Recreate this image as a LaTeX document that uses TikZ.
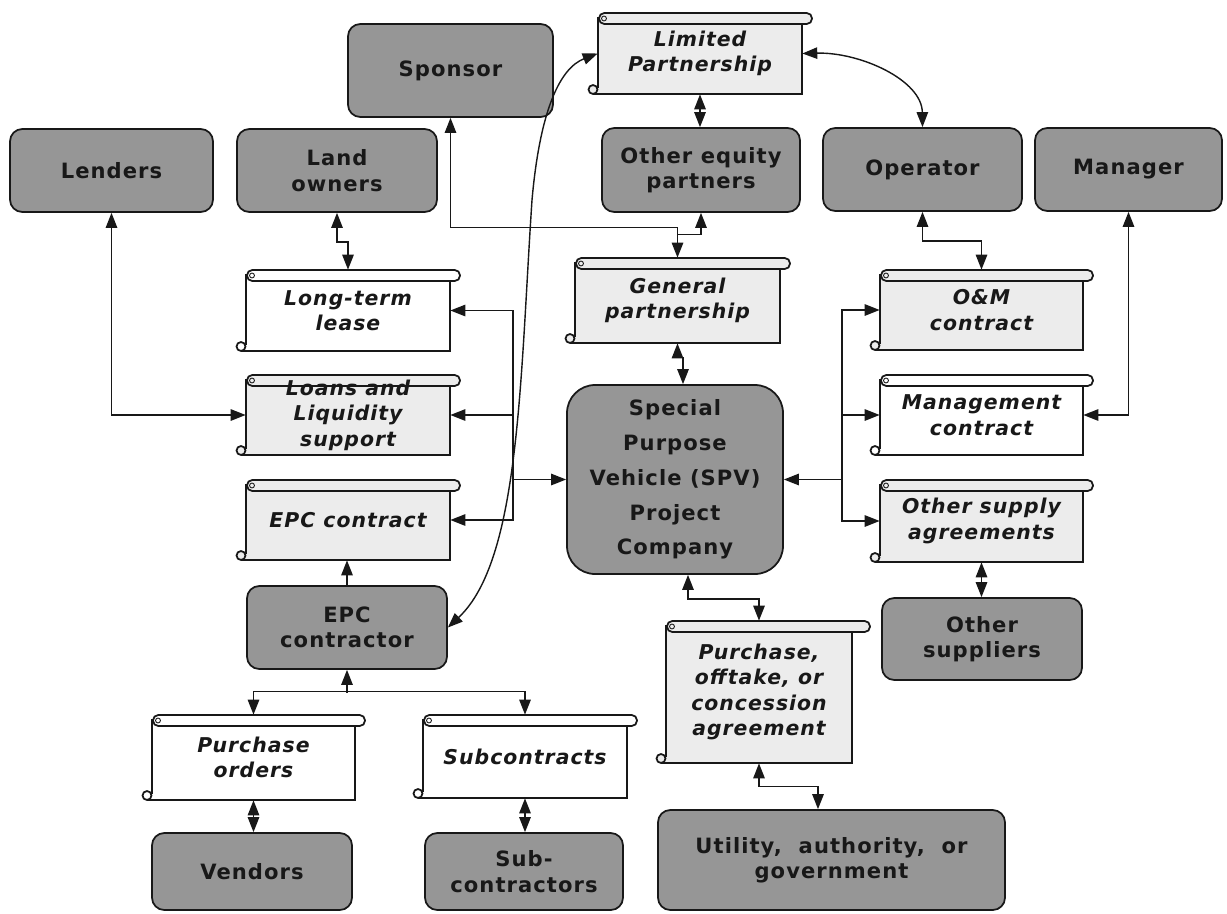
\documentclass[tikz,border=0pt]{standalone}
\usepackage{fontspec}
\setmainfont{DejaVu Sans}[LetterSpace=5,
  BoldFont={DejaVu Sans Bold},
  ItalicFont={DejaVu Sans Oblique},
  BoldItalicFont={DejaVu Sans Bold Oblique}]
\usetikzlibrary{arrows.meta,calc}

\definecolor{boxgray}{RGB}{150,150,150}
\definecolor{scrollfill}{RGB}{236,236,236}
\definecolor{ink}{RGB}{24,24,24}

\newcommand{\boxfont}{\fontsize{12pt}{14.5pt}\selectfont\bfseries}
\newcommand{\spvfont}{\fontsize{12pt}{19.8pt}\selectfont\bfseries}
\newcommand{\scrollfont}{\fontsize{11.6pt}{14.5pt}\selectfont\bfseries\itshape}

\tikzset{
  conn/.style={line width=0.8pt, draw=ink},
  graybox/.style={draw=ink, line width=1pt, fill=boxgray, rounded corners=7pt,
    inner sep=0pt, align=center, text=ink, font=\boxfont},
  scrollline/.style={draw=ink, line width=1pt},
  scrolltext/.style={inner sep=0pt, align=center, text=ink, font=\scrollfont},
}

% gray rounded box: name, left, top, right, bottom, text
\newcommand{\graybox}[7][]{%
  \node[graybox, #1, minimum width={(#5-#3)*0.02cm}, minimum height={(#6-#4)*0.02cm}]
    (#2) at ({(#3+#5)/2},{(#4+#6)/2}) {#7};}

% scroll: name, left, top, right, bottom, fill, roller overhang, text
\newcommand{\scrollbox}[8]{%
  \fill[#6] (#2,#3+5) rectangle (#4,#5);
  \draw[scrollline] (#2,#3+4) -- (#2,#5-6);
  \draw[scrollline] (#4,#3+11) -- (#4,#5) -- (#2-5,#5);
  \draw[scrollline, fill=#6] (#2-5,#5-4.5) circle (2.55pt);
  \draw[scrollline, fill=#6, rounded corners=3pt] (#2+1,#3) rectangle (#4+#7,#3+11);
  \draw[draw=ink, line width=0.5pt] (#2+6,#3+5.5) circle (1.4pt);
  \node[scrolltext, minimum width={(#4-#2)*0.02cm}, minimum height={(#5-#3)*0.02cm}]
    (#1) at ({(#2+#4)/2},{(#3+#5)/2}) {#8};}

\begin{document}
\begin{tikzpicture}[x=0.02cm, y=-0.02cm, >={Triangle[length=8.5pt,width=6.5pt]}]
\fill[white] (0,0) rectangle (1227,913);
\useasboundingbox (0,0) rectangle (1227,913);

% parties
\graybox{Sponsor}{348}{24}{553}{117}{Sponsor}
\graybox{Lenders}{10}{129}{213}{212}{Lenders}
\graybox{Landowners}{237}{129}{437}{212}{Land\\owners}
\graybox{OtherEq}{602}{128}{800}{212}{Other equity\\partners}
\graybox{Operator}{823}{128}{1022}{211}{Operator}
\graybox{Manager}{1035}{128}{1222}{211}{Manager}
\graybox[rounded corners=16pt, font=\spvfont]{SPV}{567}{385}{783}{574}{Special\\Purpose\\Vehicle (SPV)\\Project\\Company}
\graybox{EPCc}{247}{586}{447}{669}{EPC\\contractor}
\graybox{OtherSup}{882}{598}{1082}{680}{Other\\suppliers}
\graybox{Vendors}{152}{833}{352}{910}{Vendors}
\graybox{SubC}{425}{833}{623}{910}{Sub-\\contractors}
\graybox{Utility}{658}{810}{1005}{910}{Utility, \ authority, \ or\\government}

% agreements
\scrollbox{LP}{598}{13}{802}{94}{scrollfill}{10}{Limited\\Partnership}
\scrollbox{GP}{575}{258}{780}{343}{scrollfill}{10}{General\\partnership}
\scrollbox{LTL}{246}{270}{450}{351}{white}{10}{Long-term\\lease}
\scrollbox{Loans}{246}{375}{450}{455}{scrollfill}{10}{Loans and\\Liquidity\\support}
\scrollbox{EPCk}{246}{480}{450}{560}{scrollfill}{10}{EPC contract}
\scrollbox{OM}{880}{270}{1083}{350}{scrollfill}{10}{O\&M\\contract}
\scrollbox{Mgmt}{880}{375}{1083}{455}{white}{10}{Management\\contract}
\scrollbox{OSA}{880}{480}{1083}{562}{scrollfill}{10}{Other supply\\agreements}
\scrollbox{PO}{152}{715}{355}{800}{white}{10}{Purchase\\orders}
\scrollbox{SubK}{423}{715}{627}{798}{white}{10}{Subcontracts}
\scrollbox{PA}{666}{621}{852}{763}{scrollfill}{18}{Purchase,\\offtake, or\\concession\\agreement}

% connectors
\draw[conn,<->] (Lenders.south) |- (Loans.west);
\draw[conn,<->] (Landowners.south) -- ++(0,29) -| (LTL.north);
\draw[conn,<->] (Sponsor.south) |- ($(GP.north)+(0,-30)$) -- (GP.north);
\draw[conn,->] ($(GP.north)+(0,-23)$) -| (OtherEq.south);
\draw[conn,<->] (LP.south) -- (LP.south |- OtherEq.north);
\draw[conn,<->] (LP.east) .. controls (860,52) and (922,80) .. (Operator.north);
\draw[conn,<->] (LP.west) .. controls (560,68) and (540,110) .. (532,200)
  .. controls (520,380) and (520,560) .. (EPCc.east);
\draw[conn,<->] (Operator.south) -- ++(0,29) -| (OM.north);
\draw[conn,<->] (Manager.south) |- (Mgmt.east);
\draw[conn,<->] (GP.south) -- ++(0,14) -| ($(SPV.north)+(8,0)$);

\coordinate (lbr) at (513,0);
\draw[conn,<->] (LTL.east) -- (LTL.east -| lbr) -- (EPCk.east -| lbr) -- (EPCk.east);
\draw[conn,->] (Loans.east -| lbr) -- (Loans.east);
\draw[conn,->] (SPV.west -| lbr) -- (SPV.west);

\coordinate (rbr) at (842,0);
\draw[conn,<->] (OM.west) -- (OM.west -| rbr) -- (OSA.west -| rbr) -- (OSA.west);
\draw[conn,->] (Mgmt.west -| rbr) -- (Mgmt.west);
\draw[conn,->] (SPV.east -| rbr) -- (SPV.east);

\draw[conn,<->] (OSA.south) -- (OSA.south |- OtherSup.north);
\draw[conn,->] (EPCc.north) -- (EPCc.north |- EPCk.south);
\draw[conn,->] ($(EPCc.south)+(0,23)$) -- (EPCc.south);
\draw[conn,<->] (PO.north) -- ++(0,-23) -| (SubK.north);
\draw[conn,<->] (PO.south) -- (PO.south |- Vendors.north);
\draw[conn,<->] (SubK.south) -- (SubK.south |- SubC.north);
\draw[conn,<->] ($(SPV.south)+(13,0)$) -- ++(0,24) -| (PA.north);
\draw[conn,<->] (PA.south) -- ++(0,23) -| ($(Utility.north)+(-13.5,0)$);
\end{tikzpicture}
\end{document}
